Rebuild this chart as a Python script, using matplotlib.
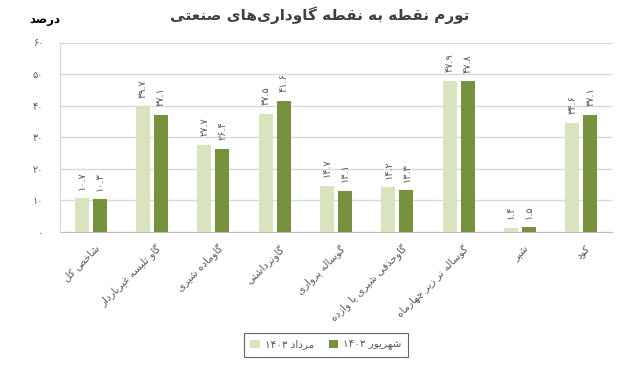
import re
import numpy as np
import matplotlib
matplotlib.use("Agg")
import matplotlib.pyplot as plt
from matplotlib.patches import Patch
from matplotlib.transforms import ScaledTranslation

# ---------------- data ----------------
categories = ["شاخص کل", "گاو تلیسه غیرباردار", "گاوماده شیری", "گاونرداشتی",
              "گوساله پرواری", "گاوحذفی شیری یا وازده", "گوساله نر زیر چهارماه",
              "شیر", "کود"]
mordad = [10.7, 39.7, 27.7, 37.5, 14.7, 14.2, 47.9, 1.4, 34.6]
shahrivar = [10.3, 37.1, 26.4, 41.6, 13.1, 13.3, 47.8, 1.5, 37.1]
series_names = ["مرداد ۱۴۰۳", "شهریور ۱۴۰۳"]
yticks = [0, 10, 20, 30, 40, 50, 60]
title = "تورم نقطه به نقطه گاوداری‌های صنعتی"
unit = "درصد"

# ---------------- minimal Persian shaping ----------------
FORMS = {
    'ا': (0xFE8D, 0xFE8E), 'د': (0xFEA9, 0xFEAA), 'ذ': (0xFEAB, 0xFEAC),
    'ر': (0xFEAD, 0xFEAE), 'ز': (0xFEAF, 0xFEB0), 'و': (0xFEED, 0xFEEE),
    'ب': (0xFE8F, 0xFE90, 0xFE91, 0xFE92), 'پ': (0xFB56, 0xFB57, 0xFB58, 0xFB59),
    'ت': (0xFE95, 0xFE96, 0xFE97, 0xFE98), 'ج': (0xFE9D, 0xFE9E, 0xFE9F, 0xFEA0),
    'چ': (0xFB7A, 0xFB7B, 0xFB7C, 0xFB7D), 'ح': (0xFEA1, 0xFEA2, 0xFEA3, 0xFEA4),
    'خ': (0xFEA5, 0xFEA6, 0xFEA7, 0xFEA8), 'س': (0xFEB1, 0xFEB2, 0xFEB3, 0xFEB4),
    'ش': (0xFEB5, 0xFEB6, 0xFEB7, 0xFEB8), 'ص': (0xFEB9, 0xFEBA, 0xFEBB, 0xFEBC),
    'ط': (0xFEC1, 0xFEC2, 0xFEC3, 0xFEC4), 'ع': (0xFEC9, 0xFECA, 0xFECB, 0xFECC),
    'غ': (0xFECD, 0xFECE, 0xFECF, 0xFED0), 'ف': (0xFED1, 0xFED2, 0xFED3, 0xFED4),
    'ق': (0xFED5, 0xFED6, 0xFED7, 0xFED8), 'ک': (0xFB8E, 0xFB8F, 0xFB90, 0xFB91),
    'گ': (0xFB92, 0xFB93, 0xFB94, 0xFB95), 'ل': (0xFEDD, 0xFEDE, 0xFEDF, 0xFEE0),
    'م': (0xFEE1, 0xFEE2, 0xFEE3, 0xFEE4), 'ن': (0xFEE5, 0xFEE6, 0xFEE7, 0xFEE8),
    'ه': (0xFEE9, 0xFEEA, 0xFEEB, 0xFEEC), 'ی': (0xFBFC, 0xFBFD, 0xFBFE, 0xFBFF),
}


def shape(text):
    out = []
    n = len(text)
    for i, c in enumerate(text):
        if c == '\u200c':
            continue
        if c not in FORMS:
            out.append(c)
            continue
        f = FORMS[c]
        prev = text[i - 1] if i > 0 else ''
        nxt = text[i + 1] if i + 1 < n else ''
        pj = prev in FORMS and len(FORMS[prev]) == 4
        nj = len(f) == 4 and nxt in FORMS
        if pj and nj:
            out.append(chr(f[3]))
        elif pj:
            out.append(chr(f[1]))
        elif nj:
            out.append(chr(f[2]))
        else:
            out.append(chr(f[0]))
    s = ''.join(out)
    tokens = re.findall(r'[۰-۹0-9.]+|[^۰-۹0-9.]+', s)
    return ''.join(t if re.fullmatch(r'[۰-۹0-9.]+', t) else t[::-1]
                   for t in reversed(tokens))


def fa_num(v):
    s = str(v)
    return s.translate(str.maketrans("0123456789", "۰۱۲۳۴۵۶۷۸۹"))


# ---------------- plot ----------------
plt.rcParams['font.family'] = ['DejaVu Sans']
light = "#d7e4bd"
dark = "#76923c"
grid_c = "#d9d9d9"
txt_c = "#595959"

fig = plt.figure(figsize=(6.4, 3.84), dpi=100)
ax = fig.add_axes([60 / 640, 1 - 232 / 384, 552 / 640, 189.5 / 384])

x = np.arange(len(categories))
w = 0.23
off = 0.145
b1 = ax.bar(x - off, mordad, w, color=light, zorder=3)
b2 = ax.bar(x + off, shahrivar, w, color=dark, zorder=3)

for bars, vals in ((b1, mordad), (b2, shahrivar)):
    for r, v in zip(bars, vals):
        ax.annotate(fa_num(v), (r.get_x() + r.get_width() / 2, v),
                    xytext=(0, 6), textcoords="offset points",
                    rotation=90, ha="center", va="bottom",
                    fontsize=7, color=txt_c)

ax.set_xlim(-0.5, len(categories) - 0.5)
ax.set_ylim(0, 60)
ax.set_yticks(yticks)
ax.set_yticklabels([fa_num(t) for t in yticks], fontsize=7, color=txt_c)
ax.yaxis.grid(True, color=grid_c, linewidth=1, zorder=0)
ax.set_axisbelow(True)
ax.tick_params(axis='y', length=0, pad=12)
ax.tick_params(axis='x', length=0, pad=8)
ax.set_xticks(x)
ax.set_xticklabels([shape(c) for c in categories], rotation=45, ha="right",
                   va="top", rotation_mode="anchor", fontsize=7.5, color=txt_c)
shift = ScaledTranslation(4 / 100, 0, fig.dpi_scale_trans)
for lab in ax.get_xticklabels():
    lab.set_transform(lab.get_transform() + shift)
for s in ("top", "right"):
    ax.spines[s].set_visible(False)
ax.spines["left"].set_color(grid_c)
ax.spines["bottom"].set_color("#bfbfbf")

fig.text(0.5, 1 - 15 / 384, shape(title), ha="center", va="center",
         fontsize=11, fontweight="bold", color="#404040")
fig.text(45 / 640, 1 - 20 / 384, shape(unit), ha="center", va="center",
         fontsize=8.5, fontweight="bold", color="#000000")

handles = [Patch(facecolor=light), Patch(facecolor=dark)]
leg = fig.legend(handles, [shape(s) for s in series_names], ncol=2,
                 loc="center", bbox_to_anchor=(326 / 640, 1 - 345 / 384),
                 frameon=True, fancybox=False, fontsize=7.5,
                 handlelength=0.9, handleheight=0.9, columnspacing=1.4,
                 handletextpad=0.5, borderpad=0.6)
leg.get_frame().set_edgecolor("#404040")
leg.get_frame().set_linewidth(0.8)
for t in leg.get_texts():
    t.set_color(txt_c)

fig.savefig("out.png", dpi=100)
